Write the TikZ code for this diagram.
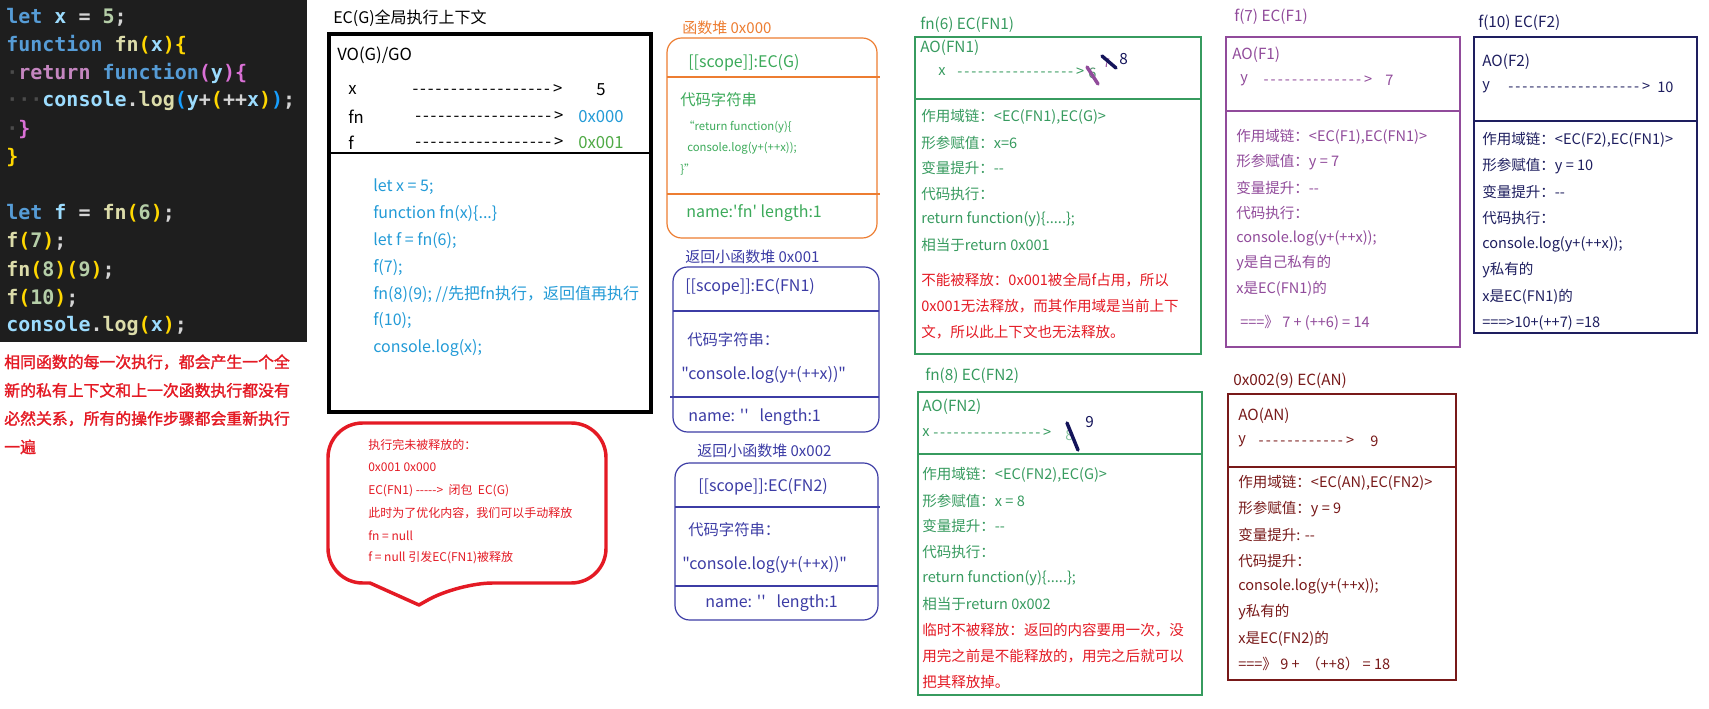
\documentclass[tikz,border=0pt]{standalone}
\usepackage{fontspec}
\setmainfont{Noto Sans CJK SC}[Ligatures=TeXOff]
\newfontfamily\cjkbold{Noto Sans CJK SC}[Ligatures=TeXOff,FakeBold=1.6]
\newfontfamily\codefont{DejaVu Sans Mono}
\usetikzlibrary{positioning}

\definecolor{codebg}{RGB}{30,30,30}
\definecolor{jstext}{RGB}{212,212,212}
\definecolor{jskw}{RGB}{86,156,214}
\definecolor{jsret}{RGB}{197,134,192}
\definecolor{jsfun}{RGB}{220,220,170}
\definecolor{jsvar}{RGB}{156,220,254}
\definecolor{jsnum}{RGB}{181,206,168}
\definecolor{jsgold}{RGB}{255,215,0}
\definecolor{jsorchid}{RGB}{218,112,214}
\definecolor{jsblue}{RGB}{23,159,255}
\definecolor{jsdot}{RGB}{75,75,75}
\definecolor{notered}{RGB}{228,26,36}
\definecolor{codeblue}{RGB}{35,155,215}
\definecolor{addrgreen}{RGB}{80,170,70}
\definecolor{heaporange}{RGB}{237,125,49}
\definecolor{heapgreen}{RGB}{60,170,90}
\definecolor{heapblue}{RGB}{60,60,165}
\definecolor{ecgreen}{RGB}{55,155,95}
\definecolor{ecpurple}{RGB}{145,75,155}
\definecolor{ecnavy}{RGB}{30,30,95}
\definecolor{ecmaroon}{RGB}{120,25,25}
\definecolor{strikenavy}{RGB}{20,20,90}

\newcommand\jk[1]{\textcolor{jskw}{#1}}
\newcommand\jr[1]{\textcolor{jsret}{#1}}
\newcommand\jf[1]{\textcolor{jsfun}{#1}}
\newcommand\jv[1]{\textcolor{jsvar}{#1}}
\newcommand\jn[1]{\textcolor{jsnum}{#1}}
\newcommand\jg[1]{\textcolor{jsgold}{#1}}
\newcommand\jo[1]{\textcolor{jsorchid}{#1}}
\newcommand\jb[1]{\textcolor{jsblue}{#1}}
\newcommand\jd[1]{\textcolor{jsdot}{#1}}
\newcommand\dashto[1]{\hbox to \dimexpr #1pt*3/4\relax{\xleaders\hbox{-\kern1.3pt}\hfill\kern0.8pt>}}

\begin{document}
\begin{tikzpicture}[x=0.75pt,y=-0.75pt,
  every node/.style={inner sep=0pt,anchor=west},
  code/.style={font=\codefont\bfseries\fontsize{15pt}{18pt}\selectfont,text=jstext},
  note/.style={font=\cjkbold\fontsize{11.9pt}{14pt}\selectfont,text=notered},
  ttl/.style={font=\fontsize{11.5pt}{14pt}\selectfont},
  body/.style={font=\fontsize{10.9pt}{13pt}\selectfont},
  heaptxt/.style={font=\fontsize{12pt}{14pt}\selectfont,text=#1},
  small/.style={font=\fontsize{8.5pt}{10pt}\selectfont,text=heapgreen},
  ecbox/.style={draw=#1,line width=1pt},
  heapbox/.style={draw=#1,line width=0.9pt,rounded corners=11pt},
  strike/.style={line width=2.6pt,line cap=round,draw=#1}
]
\fill[white] (0,0) rectangle (1709,709);
\useasboundingbox (0,0) rectangle (1709,709);

\fill[codebg] (0,0) rectangle (307,342);
\node[code] (c1) at (6,17) {\jk{let} \jv{x} = \jn{5};};
\node[code] (c2) at (6,45.1) {\jk{function} \jf{fn}\jg{(}\jv{x}\jg{)}\jg{\{}};
\node[code] (c3) at (6,73.2) {\jd{·}\jr{return} \jk{function}\jo{(}\jv{y}\jo{)}\jo{\{}};
\node[code] (c4) at (6,101.3) {\jd{···}\jv{console}.\jf{log}\jb{(}\jv{y}+\jg{(}++\jv{x}\jg{)}\jb{)};};
\node[code] (c5) at (6,129.4) {\jd{·}\jo{\}}};
\node[code] (c6) at (6,157.5) {\jg{\}}};
\node[code] (c8) at (6,213.7) {\jk{let} \jv{f} = \jf{fn}\jg{(}\jn{6}\jg{)};};
\node[code] (c9) at (6,241.8) {\jf{f}\jg{(}\jn{7}\jg{)};};
\node[code] (c10) at (6,269.9) {\jf{fn}\jg{(}\jn{8}\jg{)}\jg{(}\jn{9}\jg{)};};
\node[code] (c11) at (6,298) {\jf{f}\jg{(}\jn{10}\jg{)};};
\node[code] (c12) at (6,326.1) {\jv{console}.\jf{log}\jg{(}\jv{x}\jg{)};};

\foreach \txt [count=\i from 0] in {{相同函数的每一次执行，都会产生一个全},{新的私有上下文和上一次函数执行都没有},{必然关系，所有的操作步骤都会重新执行},{一遍}}
  \node[note] (note-\i) at (4,362+28.3*\i) {\txt};

\node[font=\fontsize{12pt}{14pt}\selectfont] (ecgT) at (333,18) {EC(G)全局执行上下文};
\draw[line width=3.5pt] (329,34) rectangle (651,412);
\draw[line width=0.9pt] (329,153) -- (651,153);
\node[font=\fontsize{12.5pt}{14pt}\selectfont] (vo) at (337,55) {VO(G)/GO};
\begin{scope}[every node/.append style={font=\fontsize{12.5pt}{14pt}\selectfont}]
\node (gx) at (348,90) {x};
\node (gxd) at (412,90) {\dashto{150}};
\node (gxv) at (596,90) {5};
\node (gfn) at (348,117) {fn};
\node (gfnd) at (415,117) {\dashto{148}};
\node[text=codeblue] (gfnv) at (578,117) {0x000};
\node (gf) at (348,143) {f};
\node (gfd) at (415,143) {\dashto{148}};
\node[text=addrgreen] (gfv) at (578,143) {0x001};
\end{scope}
\foreach \txt [count=\i from 0] in {{let x = 5;},{function fn(x)\{.{}.{}.\}},{let f = fn(6);},{f(7);},{fn(8)(9); //先把fn执行，返回值再执行},{f(10);},{console.log(x);}}
  \node[font=\fontsize{12pt}{14pt}\selectfont,text=codeblue] (gcode-\i) at (373,187+26.8*\i) {\txt};

\draw[notered,line width=2.6pt,line join=round] (370,583) [rounded corners=26pt] -- (328,583) -- (328,423) -- (606,423) -- (606,583) -- (458,583) [sharp corners] -- (419,605) -- cycle;
\foreach \txt [count=\i from 0] in {{执行完未被释放的：},{0x001 0x000},{EC(FN1) ----->\ \ 闭包\ \ EC(G)},{此时为了优化内容，我们可以手动释放},{fn = null},{f = null 引发EC(FN1)被释放}}
  \node[font=\fontsize{9pt}{11pt}\selectfont,text=notered] (keep-\i) at (368,445+22.6*\i) {\txt};

\node[font=\fontsize{11.25pt}{13pt}\selectfont,text=heaporange] (heapAT) at (682,28) {函数堆 0x000};
\draw[heapbox=heaporange] (667,38) rectangle (877,238);
\draw[heaporange,line width=0.9pt] (667,77) -- (880,77) (667,194) -- (880,194);
\node[heaptxt=heapgreen] (heapA1) at (688,63) {[[scope]]:EC(G)};
\node[heaptxt=heapgreen,font=\fontsize{11.5pt}{14pt}\selectfont] (heapA2) at (680,100) {代码字符串};
\node[small] (heapA3) at (683,127) {“return function(y)\{};
\node[small] (heapA4) at (687,148) {console.log(y+(++x));};
\node[small] (heapA5) at (680,170) {\}”};
\node[heaptxt=heapgreen] (heapA6) at (686,213) {name:'fn' length:1};

\node[font=\fontsize{11.25pt}{13pt}\selectfont,text=heapblue] (heapBT) at (685,257) {返回小函数堆 0x001};
\draw[heapbox=heapblue] (673,267) rectangle (879,432);
\draw[heapblue,line width=0.9pt] (673,311) -- (879,311) (670,397) -- (879,397);
\node[heaptxt=heapblue] (heapB1) at (685,287) {[[scope]]:EC(FN1)};
\node[heaptxt=heapblue,font=\fontsize{11.5pt}{14pt}\selectfont] (heapB2) at (687,340) {代码字符串：};
\node[heaptxt=heapblue] (heapB3) at (681,375) {"console.log(y+(++x))"};
\node[heaptxt=heapblue] (heapB4) at (688,417) {name: ''\ \ \ length:1};

\node[font=\fontsize{11.25pt}{13pt}\selectfont,text=heapblue] (heapCT) at (697,451) {返回小函数堆 0x002};
\draw[heapbox=heapblue] (675,463) rectangle (878,620);
\draw[heapblue,line width=0.9pt] (675,507) -- (880,507) (675,586) -- (878,586);
\node[heaptxt=heapblue] (heapC1) at (698,487) {[[scope]]:EC(FN2)};
\node[heaptxt=heapblue,font=\fontsize{11.5pt}{14pt}\selectfont] (heapC2) at (688,530) {代码字符串：};
\node[heaptxt=heapblue] (heapC3) at (682,565) {"console.log(y+(++x))"};
\node[heaptxt=heapblue] (heapC4) at (705,603) {name: ''\ \ \ length:1};

\node[ttl,text=ecgreen] (fnAT) at (920,25) {fn(6) EC(FN1)};
\draw[ecbox=ecgreen] (915,37) rectangle (1201,354);
\draw[ecgreen,line width=1pt] (915,99) -- (1201,99);
\node[ttl,text=ecgreen] (fnAO) at (920,48) {AO(FN1)};
\node[body,text=ecgreen] (fnAx) at (938,72) {x};
\node[body,text=ecgreen] (fnAd) at (957,72) {\dashto{127}};
\node[body,text=ecgreen!70!gray] (fnA6) at (1088,73) {6};
\draw[strike=ecpurple] (1087,67) -- (1098,84);
\node[font=\fontsize{9pt}{10pt}\selectfont,text=ecpurple] (fnA7) at (1103,63) {7};
\draw[strike=strikenavy] (1102,56) -- (1116,68);
\node[ttl,text=strikenavy] (fnA8) at (1119,59) {8};
\foreach \txt [count=\i from 0] in {{作用域链：<EC(FN1),EC(G)>},{形参赋值：x=6},{变量提升：--},{代码执行：},{return function(y)\{.{}.{}.{}.{}.\};},{相当于return 0x001}}
  \node[body,text=ecgreen] (fnA-\i) at (921,117+25.5*\i) {\txt};
\foreach \txt [count=\i from 0] in {{不能被释放：0x001被全局f占用，所以},{0x001无法释放，而其作用域是当前上下},{文，所以此上下文也无法释放。}}
  \node[body,text=notered] (fnAr-\i) at (921,280+26*\i) {\txt};

\node[ttl,text=ecgreen] (fnBT) at (925,376) {fn(8) EC(FN2)};
\draw[ecbox=ecgreen] (918,392) rectangle (1202,695);
\draw[ecgreen,line width=1pt] (918,454) -- (1202,454);
\node[ttl,text=ecgreen] (fnBO) at (922,407) {AO(FN2)};
\node[body,text=ecgreen] (fnBx) at (922,433) {x};
\node[body,text=ecgreen] (fnBd) at (933,433) {\dashto{118}};
\node[body,text=ecgreen!60!white] (fnB8) at (1065,435) {8};
\draw[strike=strikenavy] (1067,423) -- (1078,450);
\node[ttl,text=strikenavy] (fnB9) at (1085,422) {9};
\foreach \txt [count=\i from 0] in {{作用域链：<EC(FN2),EC(G)>},{形参赋值：x = 8},{变量提升：--},{代码执行：},{return function(y)\{.{}.{}.{}.{}.\};},{相当于return 0x002}}
  \node[body,text=ecgreen] (fnB-\i) at (922,475+25.7*\i) {\txt};
\foreach \txt [count=\i from 0] in {{临时不被释放：返回的内容要用一次，没},{用完之前是不能释放的，用完之后就可以},{把其释放掉。}}
  \node[body,text=notered] (fnBr-\i) at (922,630+26*\i) {\txt};

\node[ttl,text=ecpurple] (fAT) at (1234,17) {f(7) EC(F1)};
\draw[ecbox=ecpurple] (1226,37) rectangle (1460,347);
\draw[ecpurple,line width=1pt] (1226,111) -- (1460,111);
\node[ttl,text=ecpurple] (fAO) at (1232,55) {AO(F1)};
\node[body,text=ecpurple] (fAy) at (1240,80) {y};
\node[body,text=ecpurple] (fAd) at (1263,80) {\dashto{109}};
\node[body,text=ecpurple] (fA7) at (1385,80) {7};
\foreach \txt [count=\i from 0] in {{作用域链：<EC(F1),EC(FN1)>},{形参赋值：y = 7},{变量提升：--},{代码执行：},{console.log(y+(++x));},{y是自己私有的},{x是EC(FN1)的}}
  \node[body,text=ecpurple] (fA-\i) at (1236,137+25.3*\i) {\txt};
\node[body,text=ecpurple] (fAres) at (1240,323) {===》 7 + (++6) = 14};

\node[ttl,text=ecnavy] (fBT) at (1478,23) {f(10) EC(F2)};
\draw[ecbox=ecnavy] (1474,37) rectangle (1697,333);
\draw[ecnavy,line width=1pt] (1474,121) -- (1697,121);
\node[ttl,text=ecnavy] (fBO) at (1482,62) {AO(F2)};
\node[body,text=ecnavy] (fBy) at (1482,87) {y};
\node[body,text=ecnavy] (fBd) at (1508,87) {\dashto{142}};
\node[body,text=ecnavy] (fB10) at (1657,87) {10};
\foreach \txt [count=\i from 0] in {{作用域链：<EC(F2),EC(FN1)>},{形参赋值：y = 10},{变量提升：--},{代码执行：},{console.log(y+(++x));},{y私有的},{x是EC(FN1)的},{===>10+(++7) =18}}
  \node[body,text=ecnavy] (fB-\i) at (1482,140+26.1*\i) {\txt};

\node[ttl,text=ecmaroon] (anT) at (1233,381) {0x002(9) EC(AN)};
\draw[ecbox=ecmaroon] (1228,394) rectangle (1456,680);
\draw[ecmaroon,line width=1pt] (1228,467) -- (1456,467);
\node[ttl,text=ecmaroon] (anO) at (1238,416) {AO(AN)};
\node[body,text=ecmaroon] (any) at (1238,441) {y};
\node[body,text=ecmaroon] (and) at (1258,441) {\dashto{96}};
\node[body,text=ecmaroon] (an9) at (1370,441) {9};
\foreach \txt [count=\i from 0] in {{作用域链：<EC(AN),EC(FN2)>},{形参赋值：y = 9},{变量提升: --},{代码提升：},{console.log(y+(++x));},{y私有的},{x是EC(FN2)的},{===》 9 +\ \ （++8） = 18}}
  \node[body,text=ecmaroon] (an-\i) at (1238,483+25.9*\i) {\txt};
\end{tikzpicture}
\end{document}
